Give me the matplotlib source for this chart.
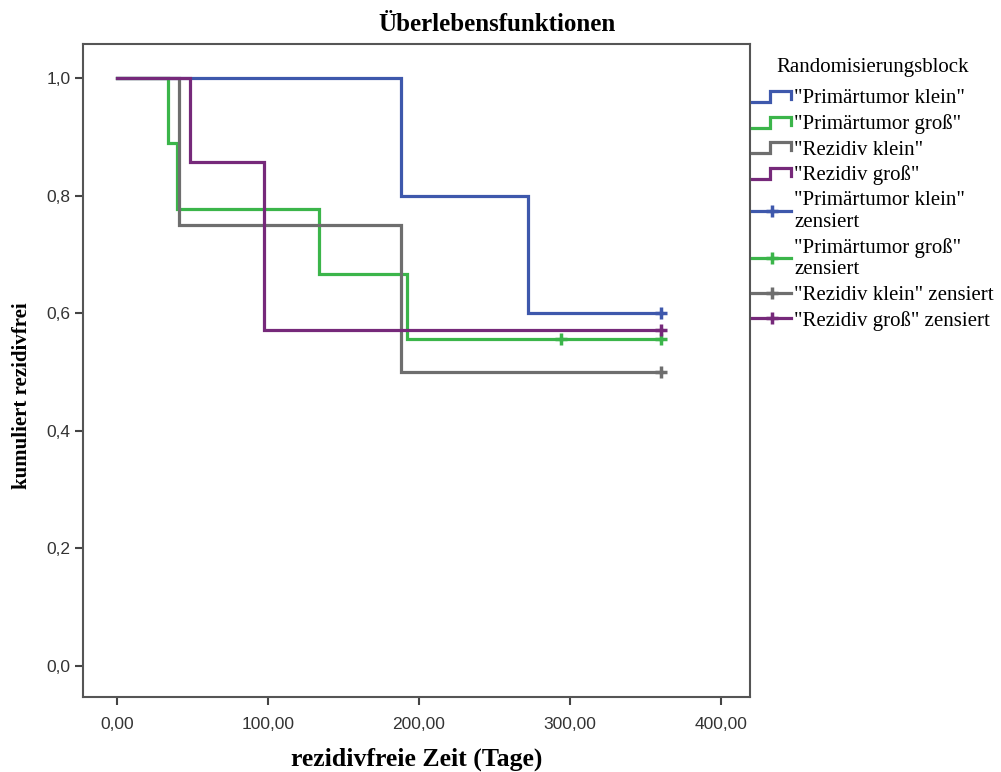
import matplotlib
matplotlib.use("Agg")
import matplotlib.pyplot as plt
from matplotlib.legend_handler import HandlerBase
from matplotlib.lines import Line2D

# Kaplan-Meier Stufen je Gruppe (Zeit in Tagen, kumuliert rezidivfrei)
gruppen = ['"Primärtumor klein"', '"Primärtumor groß"', '"Rezidiv klein"', '"Rezidiv groß"']
zensiert_labels = ['"Primärtumor klein"\nzensiert', '"Primärtumor groß"\nzensiert',
                   '"Rezidiv klein" zensiert', '"Rezidiv groß" zensiert']

zeit_pk = [0, 188, 272, 360]
surv_pk = [1.0, 0.8, 0.6, 0.6]
zens_pk = [360]

zeit_pg = [0, 34, 40, 134, 192, 360]
surv_pg = [1.0, 0.889, 0.778, 0.667, 0.556, 0.556]
zens_pg = [294, 360]

zeit_rk = [0, 41, 188, 360]
surv_rk = [1.0, 0.75, 0.5, 0.5]
zens_rk = [360]

zeit_rg = [0, 48, 97, 360]
surv_rg = [1.0, 0.857, 0.571, 0.571]
zens_rg = [360]

farben = ['#3E58AC', '#3BB54A', '#6E6E6E', '#76297A']

serif = ['Liberation Serif', 'DejaVu Serif']
sans = ['Liberation Sans', 'DejaVu Sans']


class StufenHandler(HandlerBase):
    """Kleines Treppensymbol wie im SPSS-Legendeneintrag"""
    def create_artists(self, legend, orig_handle, xdescent, ydescent,
                       width, height, fontsize, trans):
        x0 = -xdescent
        y0 = -ydescent
        xs = [x0, x0 + 0.45 * width, x0 + 0.45 * width, x0 + width, x0 + width]
        ys = [y0 + 0.1 * height, y0 + 0.1 * height, y0 + 0.85 * height,
              y0 + 0.85 * height, y0 + 0.3 * height]
        ln = Line2D(xs, ys, color=orig_handle.get_color(),
                    lw=orig_handle.get_linewidth(), transform=trans,
                    solid_joinstyle='miter')
        return [ln]


fig = plt.figure(figsize=(10.01, 7.72), dpi=100)
ax = fig.add_axes([0.083, 0.097, 0.666, 0.846])

daten = [(zeit_pk, surv_pk, zens_pk), (zeit_pg, surv_pg, zens_pg),
         (zeit_rk, surv_rk, zens_rk), (zeit_rg, surv_rg, zens_rg)]

lw = 2.3
for (t, s, z), c in zip(daten, farben):
    ax.step(t, s, where='post', color=c, lw=lw, solid_joinstyle='miter')
    zs = [s[max(i for i, tt in enumerate(t) if tt <= zz)] for zz in z]
    ax.plot(z, zs, linestyle='none', marker='+', color=c, ms=9, mew=2.5)

ax.set_xlim(-22.5, 419)
ax.set_ylim(-0.053, 1.058)
ax.set_xticks([0, 100, 200, 300, 400])
ax.set_xticklabels(['0,00', '100,00', '200,00', '300,00', '400,00'])
ax.set_yticks([0, 0.2, 0.4, 0.6, 0.8, 1.0])
ax.set_yticklabels(['0,0', '0,2', '0,4', '0,6', '0,8', '1,0'])
for lab in ax.get_xticklabels() + ax.get_yticklabels():
    lab.set_family(sans)
    lab.set_fontsize(12.5)
    lab.set_color('#333333')
ax.tick_params(direction='out', length=6, width=1.5, color='#444444', pad=3)
ax.tick_params(axis='x', pad=8)
for sp in ax.spines.values():
    sp.set_color('#555555')
    sp.set_linewidth(1.5)

fig.text(0.497, 0.968, 'Überlebensfunktionen', ha='center', va='center',
         family=serif, fontweight='bold', fontsize=18)
fig.text(0.416, 0.016, 'rezidivfreie Zeit (Tage)', ha='center', va='center',
         family=serif, fontweight='bold', fontsize=18.5)
fig.text(0.022, 0.488, 'kumuliert rezidivfrei', ha='center', va='center',
         rotation=90, family=serif, fontweight='bold', fontsize=15)

# Legende rechts neben der Grafik
fig.text(0.872, 0.913, 'Randomisierungsblock', ha='center', va='center',
         family=serif, fontsize=15)
handles = [Line2D([], [], color=c, lw=lw) for c in farben]
handles += [Line2D([], [], color=c, lw=lw, marker='+', ms=9, mew=2.5) for c in farben]
labels = gruppen + zensiert_labels
handler_map = {h: StufenHandler() for h in handles[:4]}
leg = fig.legend(handles, labels, handler_map=handler_map,
                 loc='upper left', bbox_to_anchor=(0.751, 0.885),
                 frameon=False, prop={'family': serif, 'size': 15},
                 handlelength=1.9, handletextpad=0.15, labelspacing=0.28,
                 numpoints=1, borderaxespad=0, borderpad=0)

fig.savefig('out.png', dpi=100)
